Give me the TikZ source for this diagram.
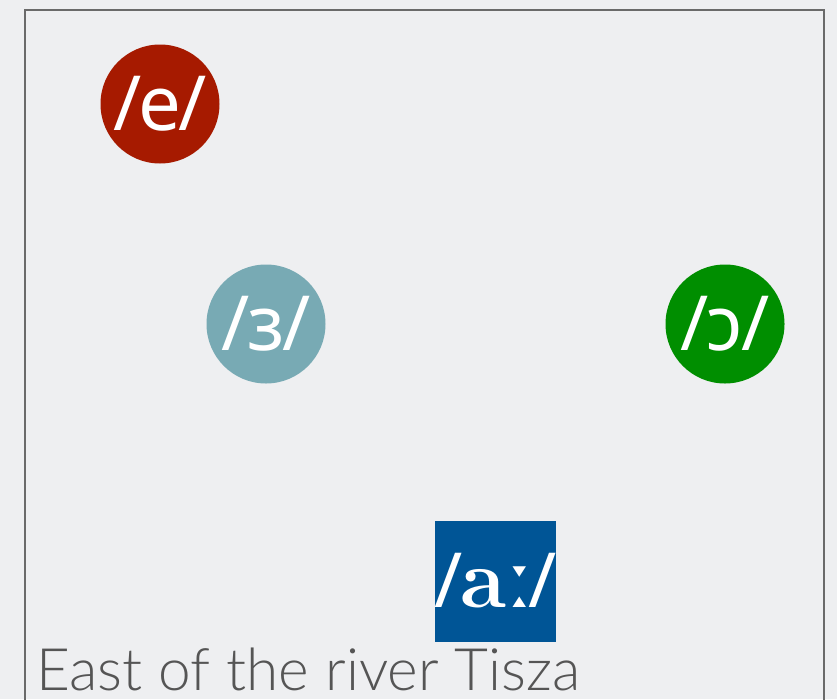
\documentclass[tikz,border=0pt]{standalone}
\usepackage{fontspec}
\newfontfamily\ipasans{Noto Sans}
\newfontfamily\captionfnt{Lato Light}
\definecolor{bg}{HTML}{EEEFF1}
\definecolor{frame}{HTML}{6A6A6A}
\definecolor{cred}{HTML}{A61A00}
\definecolor{cteal}{HTML}{78AAB4}
\definecolor{cgreen}{HTML}{008E00}
\definecolor{cblue}{HTML}{005596}
\definecolor{ctext}{HTML}{555555}
\tikzset{
  vowel/.style={circle, minimum size=119pt, inner sep=0pt, text=white, font=\ipasans\fontsize{76}{76}\selectfont},
  vsquare/.style={rectangle, minimum size=121pt, inner sep=0pt, text=white, fill=cblue, font=\ipasans\fontsize{76}{76}\selectfont}
}
\begin{document}
\begin{tikzpicture}[x=1pt,y=-1pt]
\fill[bg] (0,0) rectangle (837,699);
\useasboundingbox (0,0) rectangle (837,699);
\begin{scope}
\clip (0,0) rectangle (837,699);
\draw[frame, line width=2pt] (25,10) rectangle (824,720);
\end{scope}
\node[vowel, fill=cred] (e) at (160,104) {\kern-2pt/\kern-3pt e\kern-3pt/\kern-2pt};
\node[vowel, fill=cteal] (eps) at (266,324) {\kern-2pt/\kern-2pt ɜ\kern-2pt/\kern-2pt};
\node[vowel, fill=cgreen] (o) at (725,324) {\kern-2pt/\kern-2pt ɔ\kern-2pt/\kern-2pt};
\node[vsquare] (a) at (495.5,581) {\kern-6pt/\kern-2pt{\rmfamily\bfseries\fontsize{84}{84}\selectfont a}\kern1pt ː\kern-3pt/\kern-6pt};
\node[anchor=base west, inner sep=0pt, text depth=0pt, text=ctext, font=\captionfnt\fontsize{58.5}{58.5}\selectfont] (cap) at (36,690) {East of the river Tisza};
\end{tikzpicture}
\end{document}
